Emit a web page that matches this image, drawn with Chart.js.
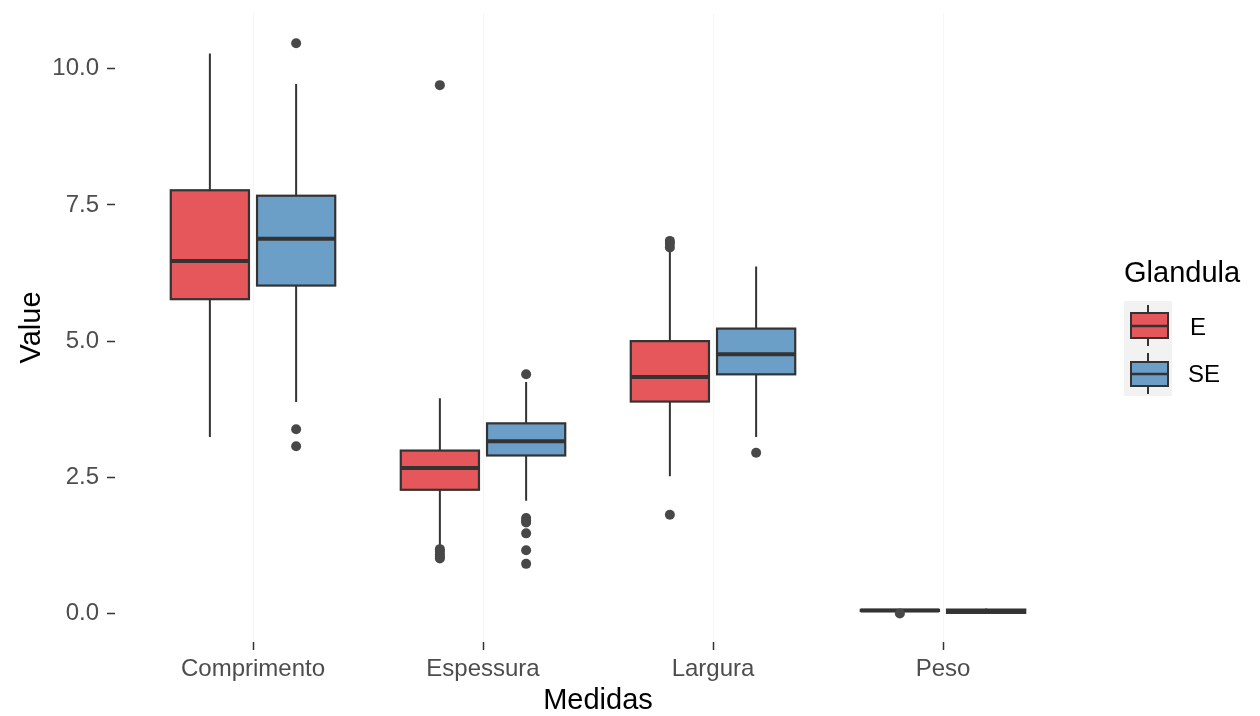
<!DOCTYPE html>
<html>
<head>
<meta charset="utf-8">
<script src="https://cdn.jsdelivr.net/npm/chart.js@4.4.1/dist/chart.umd.min.js"></script>
<style>
  html, body { margin: 0; padding: 0; background: #ffffff; }
  #wrap { width: 1260px; height: 716px; }
</style>
</head>
<body>
<div id="wrap"><canvas id="chart" width="1260" height="716"></canvas></div>
<script>
// Categorias (eixo x) e grupos
const categories = ['Comprimento', 'Espessura', 'Largura', 'Peso'];
const groups = ['E', 'SE'];
const yTicks = [0, 2.5, 5, 7.5, 10];

// Glandula E
const eLow    = [3.24, 1.24, 2.52, 0.02];
const eQ1     = [5.77, 2.27, 3.89, 0.045];
const eMedian = [6.47, 2.67, 4.34, 0.055];
const eQ3     = [7.77, 2.99, 5.00, 0.065];
const eHigh   = [10.28, 3.95, 6.64, 0.08];
const eOutliers = [[], [9.70, 1.18, 1.13, 1.08, 1.04, 1.01], [6.84, 6.79, 6.72, 1.81], [0.0]];

// Glandula SE
const seLow    = [3.88, 2.07, 3.24, 0.0];
const seQ1     = [6.02, 2.90, 4.39, 0.01];
const seMedian = [6.88, 3.16, 4.76, 0.04];
const seQ3     = [7.67, 3.49, 5.23, 0.07];
const seHigh   = [9.72, 4.25, 6.37, 0.09];
const seOutliers = [[10.47, 3.38, 3.07], [4.39, 1.75, 1.71, 1.67, 1.47, 1.16, 0.91], [2.95], []];

const fillColors = ['#E5575B', '#6C9FC8'];
const lineColor = '#333333';
const dodge = 0.1875;      // deslocamento de cada grupo
const halfBox = 0.17;      // meia largura da caixa (unidades do eixo x)

const stats = [
    { low: eLow, q1: eQ1, med: eMedian, q3: eQ3, high: eHigh, out: eOutliers },
    { low: seLow, q1: seQ1, med: seMedian, q3: seQ3, high: seHigh, out: seOutliers }
];

// Pontos outliers como datasets scatter
function outlierPoints(g) {
    const pts = [];
    stats[g].out.forEach((list, i) => {
        const x = i + 1 + (g === 0 ? -dodge : dodge);
        list.forEach(v => pts.push({ x: x, y: v }));
    });
    return pts;
}

// Desenha caixas e bigodes pelas escalas do Chart.js
const boxplotPlugin = {
    id: 'boxplot',
    beforeDatasetsDraw(chart) {
        const ctx = chart.ctx;
        const xs = chart.scales.x;
        const ys = chart.scales.y;
        ctx.save();
        stats.forEach((s, g) => {
            categories.forEach((c, i) => {
                const cx = i + 1 + (g === 0 ? -dodge : dodge);
                const px = xs.getPixelForValue(cx);
                const left = xs.getPixelForValue(cx - halfBox);
                const right = xs.getPixelForValue(cx + halfBox);
                const yLow = ys.getPixelForValue(s.low[i]);
                const yQ1 = ys.getPixelForValue(s.q1[i]);
                const yMed = ys.getPixelForValue(s.med[i]);
                const yQ3 = ys.getPixelForValue(s.q3[i]);
                const yHigh = ys.getPixelForValue(s.high[i]);

                ctx.strokeStyle = lineColor;
                ctx.lineWidth = 2;
                ctx.beginPath();
                ctx.moveTo(px, yHigh); ctx.lineTo(px, yQ3);
                ctx.moveTo(px, yQ1); ctx.lineTo(px, yLow);
                ctx.stroke();

                ctx.fillStyle = fillColors[g];
                ctx.fillRect(left, yQ3, right - left, yQ1 - yQ3);
                ctx.lineWidth = 2.2;
                ctx.strokeRect(left, yQ3, right - left, yQ1 - yQ3);

                ctx.lineWidth = 4;
                ctx.beginPath();
                ctx.moveTo(left, yMed); ctx.lineTo(right, yMed);
                ctx.stroke();
            });
        });
        ctx.restore();
    },
    afterDraw(chart) {
        // Legenda no estilo ggplot
        const ctx = chart.ctx;
        ctx.save();
        ctx.fillStyle = '#000000';
        ctx.font = '29px "Liberation Sans", Arial, sans-serif';
        ctx.textBaseline = 'middle';
        ctx.textAlign = 'left';
        ctx.fillText('Glandula', 1124, 274);

        ctx.fillStyle = '#f2f2f2';
        ctx.fillRect(1124, 301, 48, 95);

        const keys = [
            { top: 305, q3: 313, med: 326, q1: 338, bot: 346, label: 'E', lx: 1190, ly: 328 },
            { top: 353, q3: 362, med: 374, q1: 386, bot: 394, label: 'SE', lx: 1188, ly: 375 }
        ];
        keys.forEach((k, g) => {
            ctx.strokeStyle = lineColor;
            ctx.lineWidth = 2;
            ctx.beginPath();
            ctx.moveTo(1148, k.top); ctx.lineTo(1148, k.q3);
            ctx.moveTo(1148, k.q1); ctx.lineTo(1148, k.bot);
            ctx.stroke();
            ctx.fillStyle = fillColors[g];
            ctx.fillRect(1131, k.q3, 37, k.q1 - k.q3);
            ctx.strokeRect(1131, k.q3, 37, k.q1 - k.q3);
            ctx.lineWidth = 2.5;
            ctx.beginPath();
            ctx.moveTo(1131, k.med); ctx.lineTo(1168, k.med);
            ctx.stroke();
            ctx.fillStyle = '#000000';
            ctx.font = '24px "Liberation Sans", Arial, sans-serif';
            ctx.fillText(k.label, k.lx, k.ly);
        });
        ctx.restore();
    }
};

const ctx = document.getElementById('chart').getContext('2d');
new Chart(ctx, {
    type: 'scatter',
    data: {
        datasets: groups.map((g, idx) => ({
            label: g,
            data: outlierPoints(idx),
            pointRadius: 5,
            pointBackgroundColor: '#484848',
            pointBorderWidth: 0,
            pointHoverRadius: 5
        }))
    },
    options: {
        responsive: false,
        animation: false,
        layout: { padding: { left: 0, top: 13, right: 179, bottom: 0 } },
        plugins: {
            legend: { display: false },
            tooltip: { enabled: false }
        },
        scales: {
            x: {
                type: 'linear',
                min: 0.4,
                max: 4.6,
                afterBuildTicks: scale => { scale.ticks = categories.map((c, i) => ({ value: i + 1 })); },
                afterFit: scale => { scale.height = 74; scale.paddingLeft = 0; scale.paddingRight = 0; },
                border: { display: false },
                grid: { color: '#f6f6f6', lineWidth: 1, tickColor: '#333333', tickLength: 8, tickWidth: 1.5 },
                ticks: {
                    padding: 5,
                    color: '#4D4D4D',
                    font: { family: '"Liberation Sans", Arial, sans-serif', size: 24 },
                    maxRotation: 0,
                    callback: v => categories[v - 1]
                },
                title: {
                    display: true,
                    text: 'Medidas',
                    color: '#000000',
                    font: { family: '"Liberation Sans", Arial, sans-serif', size: 29, lineHeight: 1 },
                    padding: { top: 0, bottom: 1 }
                }
            },
            y: {
                min: -0.525,
                max: 11.025,
                afterBuildTicks: scale => { scale.ticks = yTicks.map(v => ({ value: v })); },
                afterFit: scale => { scale.width = 115; scale.paddingTop = 0; scale.paddingBottom = 0; },
                border: { display: false },
                grid: { drawOnChartArea: false, tickColor: '#333333', tickLength: 8, tickWidth: 1.5 },
                ticks: {
                    padding: 8,
                    color: '#4D4D4D',
                    font: { family: '"Liberation Sans", Arial, sans-serif', size: 24 },
                    callback: v => v.toFixed(1)
                },
                title: {
                    display: true,
                    text: 'Value',
                    color: '#000000',
                    font: { family: '"Liberation Sans", Arial, sans-serif', size: 29, lineHeight: 1 },
                    padding: { top: 17, bottom: 0 }
                }
            }
        }
    },
    plugins: [boxplotPlugin]
});
</script>
</body>
</html>
